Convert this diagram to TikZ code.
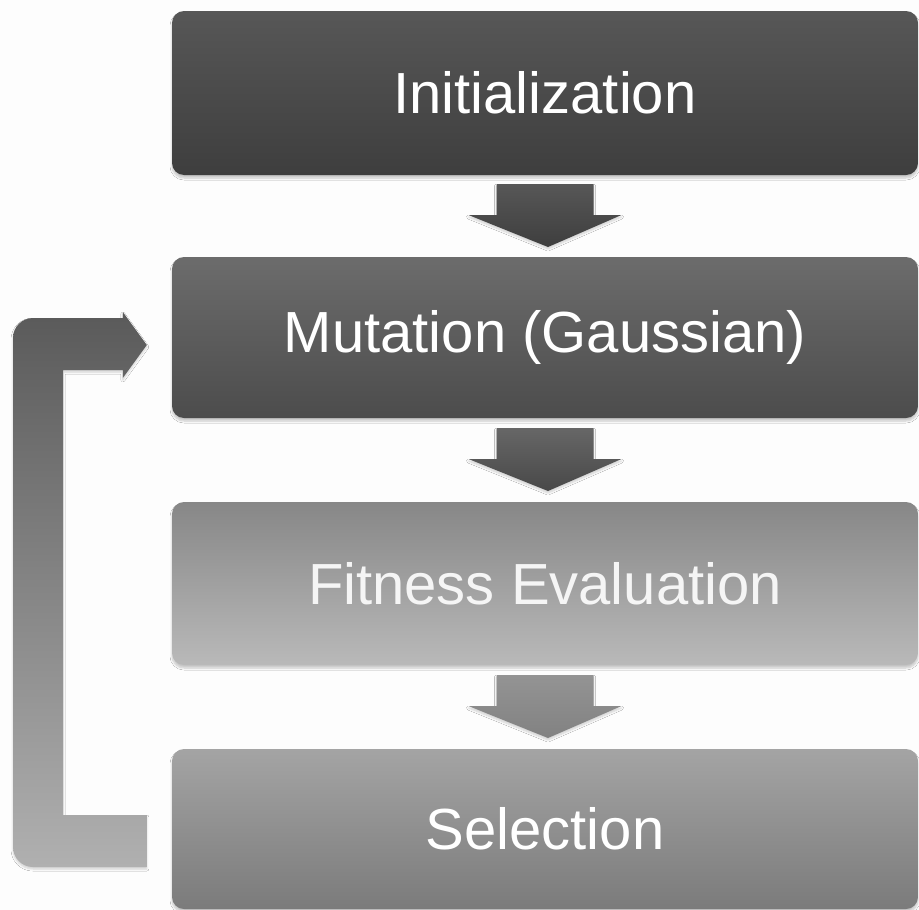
\documentclass[tikz,border=0pt]{standalone}
\usepackage{fontspec}
\setmainfont{Liberation Sans}
\usetikzlibrary{calc,shadows.blur}

\definecolor{initTop}{HTML}{575757}
\definecolor{initBot}{HTML}{3E3E3E}
\definecolor{mutTop}{HTML}{6C6C6C}
\definecolor{mutBot}{HTML}{4C4C4C}
\definecolor{fitTop}{HTML}{878787}
\definecolor{fitBot}{HTML}{B9B9B9}
\definecolor{selTop}{HTML}{A4A4A4}
\definecolor{selBot}{HTML}{7B7B7B}
\definecolor{loopTop}{HTML}{5A5A5A}
\definecolor{loopBot}{HTML}{B0B0B0}
\definecolor{pagebg}{HTML}{FDFDFD}

\tikzset{
  stagebox/.style={rectangle, rounded corners=12pt, minimum width=746pt,
    text=white, font=\fontsize{58}{62}\selectfont, inner sep=0pt,
    blur shadow={shadow xshift=0pt, shadow yshift=-3pt,
      shadow blur radius=2pt, shadow blur steps=6, shadow opacity=22}},
  flowshadow/.style={blur shadow={shadow xshift=0pt, shadow yshift=-2pt,
      shadow blur radius=2pt, shadow blur steps=6, shadow opacity=18}}
}

% block arrow pointing down, centred on coordinate #1
\newcommand\flowarrow[3]{%
  \path[flowshadow, top color=#2, bottom color=#3]
    ($(#1)+(-48.5,-32)$) -- ($(#1)+(48.5,-32)$) -- ($(#1)+(48.5,-1)$)
    -- ($(#1)+(76.5,-1)$) -- ($(#1)+(3,31)$) -- ($(#1)+(-76.5,-1)$)
    -- ($(#1)+(-48.5,-1)$) -- cycle;}

\begin{document}
\begin{tikzpicture}[x=1pt, y=-1pt]
  \fill[pagebg] (0,0) rectangle (919,910);
  \useasboundingbox (0,0) rectangle (919,910);

  \node[stagebox, minimum height=164pt, top color=initTop, bottom color=initBot]
    (init) at (545,93) {Initialization};
  \node[stagebox, minimum height=161pt, top color=mutTop, bottom color=mutBot]
    (mut) at (545,337.5) {Mutation (Gaussian)};
  \node[stagebox, minimum height=163pt, top color=fitTop, bottom color=fitBot,
    text=white!96!black]
    (fit) at (545,583.5) {Fitness Evaluation};
  \node[stagebox, minimum height=160pt, top color=selTop, bottom color=selBot]
    (sel) at (545,829) {Selection};

  % connectors between consecutive stages
  \path (init.south) -- (mut.north) coordinate[pos=0.5] (a1);
  \path (mut.south) -- (fit.north) coordinate[pos=0.5] (a2);
  \path (fit.south) -- (sel.north) coordinate[pos=0.5] (a3);
  \flowarrow{a1}{initTop}{initBot}
  \flowarrow{a2}{mutTop!95!black}{mutBot!95!black}
  \flowarrow{a3}{selTop!90!black}{selBot!95!white}

  % feedback loop from Selection back to Mutation
  \coordinate (loopEnd) at ($(sel.west)+(-25,12)$);
  \coordinate (loopTip) at ($(mut.west)+(-25,7.5)$);
  \path[flowshadow, top color=loopTop, bottom color=loopBot]
    ($(loopEnd)+(0,-26)$) -- (63,815) -- (63,370) -- ($(loopTip)+(-24,25)$)
    -- ($(loopTip)+(-24,33)$) -- (loopTip) -- ($(loopTip)+(-24,-33)$)
    -- ($(loopTip)+(-24,-27)$) [rounded corners=20pt] -- (13,318)
    -- (13,867) [sharp corners] -- ($(loopEnd)+(0,26)$) -- cycle;
\end{tikzpicture}
\end{document}
